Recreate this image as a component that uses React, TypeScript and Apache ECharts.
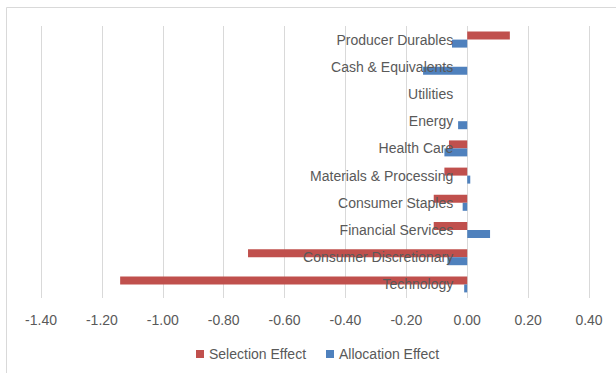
import React, { useEffect, useRef } from "react";
import * as echarts from "echarts";

const categories = [
  "Technology",
  "Consumer Discretionary",
  "Financial Services",
  "Consumer Staples",
  "Materials & Processing",
  "Health Care",
  "Energy",
  "Utilities",
  "Cash & Equivalents",
  "Producer Durables",
];
const selectionEffect = [-1.14, -0.72, -0.11, -0.11, -0.075, -0.06, 0, 0, 0, 0.14];
const allocationEffect = [-0.01, -0.065, 0.075, -0.015, 0.01, -0.075, -0.03, 0, -0.145, -0.05];
const xMin = -1.4;
const xMax = 0.4;
const xStep = 0.2;

export default function App() {
  const ref = useRef<HTMLDivElement>(null);
  useEffect(() => {
    if (!ref.current) return;
    const chart = echarts.init(ref.current, undefined, { renderer: "svg" });
    const font = "'Liberation Sans', Arial, sans-serif";
    const gridLeft = 41;
    const gridRight = 27;
    const plotWidth = 616 - gridLeft - gridRight;
    const zeroX = gridLeft + ((0 - xMin) / (xMax - xMin)) * plotWidth;
    chart.setOption({
      animation: false,
      backgroundColor: "#ffffff",
      graphic: [
        {
          type: "rect",
          shape: { x: 6.5, y: 7.5, width: 700, height: 500 },
          style: { fill: "none", stroke: "#d9d9d9", lineWidth: 1 },
          silent: true,
        },
      ],
      grid: {
        left: gridLeft,
        right: gridRight,
        top: 26,
        height: 272,
        containLabel: false,
        outerBoundsMode: "none",
      },
      legend: {
        data: ["Selection Effect", "Allocation Effect"],
        top: 342,
        left: 191,
        itemWidth: 8,
        itemHeight: 8,
        itemGap: 20,
        icon: "rect",
        textStyle: { color: "#595959", fontSize: 14, fontFamily: font },
      },
      xAxis: {
        type: "value",
        min: xMin,
        max: xMax,
        interval: xStep,
        axisLine: { show: false },
        axisTick: { show: false },
        splitLine: { show: true, lineStyle: { color: "#d9d9d9", width: 1 } },
        axisLabel: {
          color: "#595959",
          fontSize: 14,
          fontFamily: font,
          margin: 15,
          formatter: (v: number) => v.toFixed(2),
        },
      },
      yAxis: {
        type: "category",
        data: categories,
        axisLine: { show: false, onZero: false },
        axisTick: { show: false },
        splitLine: { show: false },
        axisLabel: {
          color: "#595959",
          fontSize: 14,
          fontFamily: font,
          margin: -(zeroX - 14 - gridLeft),
          align: "right",
        },
        z: 10,
      },
      series: [
        {
          name: "Selection Effect",
          type: "bar",
          data: selectionEffect,
          barWidth: 8,
          barGap: "0%",
          itemStyle: { color: "#C0504D" },
        },
        {
          name: "Allocation Effect",
          type: "bar",
          data: allocationEffect,
          barWidth: 8,
          barGap: "0%",
          itemStyle: { color: "#4F81BD" },
        },
      ],
    });
    return () => chart.dispose();
  }, []);
  return (
    <div
      ref={ref}
      style={{ position: "fixed", left: 0, top: 0, width: 616, height: 373 }}
    />
  );
}
